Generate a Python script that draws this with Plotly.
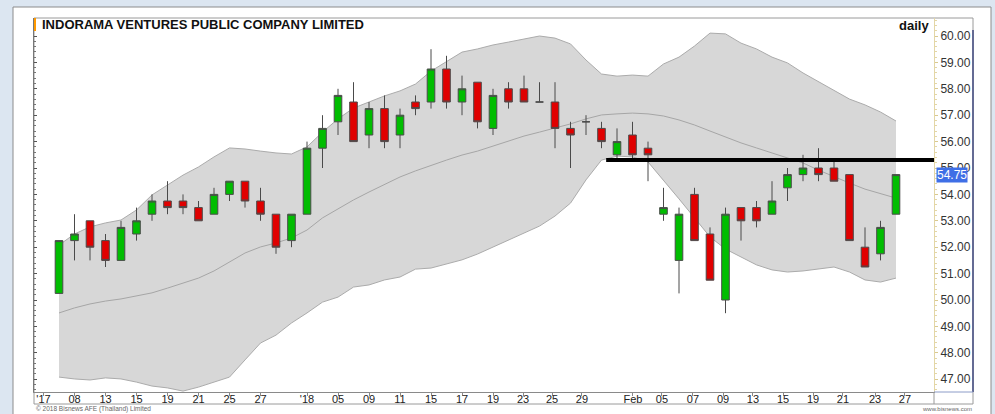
import plotly.graph_objects as go

# ---------------- data ----------------
dates = [
    "2017-12-07", "2017-12-08", "2017-12-12", "2017-12-13", "2017-12-14", "2017-12-15",
    "2017-12-18", "2017-12-19", "2017-12-20", "2017-12-21", "2017-12-22", "2017-12-25",
    "2017-12-26", "2017-12-27", "2017-12-28",
    "2018-01-02", "2018-01-03", "2018-01-04", "2018-01-05", "2018-01-08", "2018-01-09",
    "2018-01-10", "2018-01-11", "2018-01-12", "2018-01-15", "2018-01-16", "2018-01-17",
    "2018-01-18", "2018-01-19", "2018-01-22", "2018-01-23", "2018-01-24", "2018-01-25",
    "2018-01-26", "2018-01-29", "2018-01-30", "2018-01-31",
    "2018-02-01", "2018-02-02", "2018-02-05", "2018-02-06", "2018-02-07", "2018-02-08",
    "2018-02-09", "2018-02-12", "2018-02-13", "2018-02-14", "2018-02-15", "2018-02-16",
    "2018-02-19", "2018-02-20", "2018-02-21", "2018-02-22", "2018-02-23", "2018-02-26",
]

open_ = [50.25, 52.25, 53.00, 52.25, 51.50, 52.50, 53.25, 53.75, 53.75, 53.50,
         53.25, 54.00, 54.50, 53.75, 53.25, 52.25, 53.25, 55.75, 56.75, 57.50,
         56.25, 57.25, 56.25, 57.50, 57.50, 58.75, 57.50, 58.25, 56.50, 58.00,
         58.00, 57.50, 57.50, 56.50, 56.75, 56.50, 55.50, 56.25, 55.75, 53.25,
         51.50, 54.00, 52.50, 50.00, 53.50, 53.50, 53.25, 54.25, 54.75, 55.00,
         55.00, 54.75, 52.00, 51.75, 53.25]
high = [52.25, 53.25, 53.00, 52.50, 53.00, 53.50, 54.00, 54.50, 54.00, 53.75,
        54.25, 54.50, 54.50, 54.25, 53.25, 53.25, 56.00, 57.00, 58.00, 58.25,
        57.50, 57.75, 57.25, 57.75, 59.50, 59.25, 58.50, 58.25, 58.00, 58.25,
        58.50, 58.25, 58.25, 56.75, 57.00, 56.75, 56.50, 56.75, 56.00, 54.25,
        53.50, 54.25, 52.75, 53.50, 53.50, 53.75, 54.50, 55.00, 55.50, 55.75,
        55.25, 54.75, 52.75, 53.00, 54.75]
low = [50.25, 51.50, 51.50, 51.25, 51.50, 52.25, 53.00, 53.25, 53.25, 53.00,
       53.25, 53.75, 53.50, 53.00, 51.75, 52.00, 53.25, 55.00, 56.25, 56.00,
       55.75, 55.75, 55.75, 57.00, 57.25, 57.25, 57.00, 56.50, 56.25, 57.25,
       57.50, 57.50, 55.75, 55.00, 56.25, 55.75, 55.25, 55.25, 54.50, 53.00,
       50.25, 52.25, 50.75, 49.50, 52.25, 52.75, 53.25, 53.75, 54.50, 54.50,
       54.50, 52.25, 51.25, 51.50, 53.25]
close = [52.25, 52.50, 52.00, 51.50, 52.75, 53.00, 53.75, 53.50, 53.50, 53.00,
         54.00, 54.50, 53.75, 53.25, 52.00, 53.25, 55.75, 56.50, 57.75, 56.00,
         57.25, 56.00, 57.00, 57.25, 58.75, 57.50, 58.00, 56.75, 57.75, 57.50,
         57.50, 57.50, 56.50, 56.25, 56.75, 56.00, 56.00, 55.50, 55.50, 53.50,
         53.25, 52.25, 50.75, 53.25, 53.00, 53.00, 53.75, 54.75, 55.00, 54.75,
         54.50, 52.25, 51.25, 52.75, 54.75]

bb_upper = [52.08, 52.50, 52.77, 52.92, 53.03, 53.41, 53.98, 54.36, 54.73, 55.04,
            55.42, 55.76, 55.72, 55.64, 55.57, 55.53, 55.80, 56.36, 56.86, 57.27,
            57.50, 57.73, 57.92, 58.18, 58.67, 59.02, 59.39, 59.51, 59.66, 59.77,
            59.89, 60.00, 59.92, 59.70, 59.09, 58.56, 58.48, 58.52, 58.48, 58.94,
            59.20, 59.62, 60.11, 60.08, 59.73, 59.51, 59.20, 58.98, 58.60, 58.26,
            57.92, 57.61, 57.39, 57.12, 56.78]
bb_middle = [49.51, 49.70, 49.85, 49.96, 50.04, 50.15, 50.27, 50.45, 50.64, 50.83,
             51.10, 51.44, 51.78, 52.01, 52.16, 52.35, 52.65, 53.11, 53.45, 53.79,
             54.09, 54.39, 54.66, 54.89, 55.11, 55.30, 55.49, 55.64, 55.83, 56.02,
             56.21, 56.36, 56.52, 56.67, 56.86, 57.01, 57.05, 57.08, 57.05, 56.97,
             56.82, 56.63, 56.40, 56.17, 55.95, 55.76, 55.57, 55.38, 55.19, 54.92,
             54.66, 54.43, 54.20, 54.02, 53.86]
bb_lower = [47.08, 47.01, 46.97, 47.05, 47.01, 46.89, 46.74, 46.67, 46.55, 46.70,
            46.89, 47.08, 47.73, 48.37, 48.67, 49.13, 49.51, 49.92, 50.11, 50.49,
            50.57, 50.76, 50.87, 51.17, 51.21, 51.36, 51.52, 51.74, 52.01, 52.27,
            52.54, 52.80, 53.18, 53.67, 54.55, 55.30, 55.45, 55.42, 55.23, 54.55,
            53.83, 53.11, 52.39, 51.93, 51.63, 51.33, 51.14, 51.06, 51.10, 51.17,
            51.25, 51.06, 50.76, 50.68, 50.83]

tick_pos = [-1, 1, 3, 5, 7, 9, 11, 13, 16, 18, 20, 22, 24, 26, 28, 29.94, 31.81, 33.74,
            37.03, 38.9, 40.9, 42.84, 44.77, 46.71, 48.65, 50.58, 52.65, 54.58]
tick_text = ["'17", "08", "13", "15", "19", "21", "25", "27", "'18", "05", "09", "11",
             "15", "17", "19", "23", "25", "29", "Feb", "05", "07", "09", "13", "15",
             "19", "21", "23", "27"]

support_level = 55.30
support_start = 35.3
last_price = close[-1]

title_text = "INDORAMA VENTURES PUBLIC COMPANY LIMITED"

# ---------------- figure ----------------
W, H = 995, 414
x = list(range(len(dates)))
FONT = "Liberation Sans, Arial, sans-serif"


def px(v):
    return v / W


def py(v):
    return 1 - v / H


fig = go.Figure()

fig.add_trace(go.Scatter(x=x, y=bb_lower, mode="lines",
                         line=dict(color="#ababab", width=1), hoverinfo="skip",
                         showlegend=False))
fig.add_trace(go.Scatter(x=x, y=bb_upper, mode="lines", fill="tonexty",
                         fillcolor="#d7d7d7", line=dict(color="#ababab", width=1),
                         hoverinfo="skip", showlegend=False))
fig.add_trace(go.Scatter(x=x, y=bb_middle, mode="lines",
                         line=dict(color="#a6a6a6", width=1), hoverinfo="skip",
                         showlegend=False))

# candles on an overlaid (identical) y axis so they are drawn above the band fill
fig.add_trace(go.Candlestick(
    x=x, open=open_, high=high, low=low, close=close, yaxis="y2",
    increasing=dict(fillcolor="#00bd00", line=dict(color="#4a4a4a", width=1)),
    decreasing=dict(fillcolor="#e00000", line=dict(color="#4a4a4a", width=1)),
    whiskerwidth=0, showlegend=False,
))

# empty helper trace so the left tick-only axis is drawn
fig.add_trace(go.Scatter(x=[None], y=[None], yaxis="y3", mode="lines",
                         hoverinfo="skip", showlegend=False))

x_left = (34 - 59) / 15.5
x_right = (934 - 59) / 15.5
y_top = 60 + 18 / 26.4
y_bot = 60 - 356 / 26.4

shapes = [
    dict(type="rect", xref="paper", yref="paper", x0=px(13), x1=px(991), y0=py(415), y1=py(7),
         fillcolor="white", line=dict(color="#8c8c8c", width=1), layer="below"),
    dict(type="rect", xref="paper", yref="paper", x0=px(34), x1=px(973), y0=py(404), y1=py(18),
         fillcolor="rgba(0,0,0,0)", line=dict(color="#9a9a9a", width=1), layer="below"),
    dict(type="line", xref="paper", yref="paper", x0=px(973), x1=px(973), y0=py(392), y1=py(30),
         line=dict(color="#1f2a6e", width=1.2)),
    dict(type="line", xref="paper", yref="paper", x0=px(934), x1=px(973), y0=py(392), y1=py(392),
         line=dict(color="#8c9cc8", width=1)),
    dict(type="line", xref="paper", yref="paper", x0=px(934), x1=px(934), y0=py(404), y1=py(392),
         line=dict(color="#9a9a9a", width=1)),
    dict(type="rect", xref="paper", yref="paper", x0=px(34), x1=px(36), y0=py(31), y1=py(18),
         fillcolor="#ff9900", line=dict(width=0)),
    dict(type="line", xref="x", yref="y", x0=support_start, x1=x_right, y0=support_level,
         y1=support_level, line=dict(color="black", width=4)),
]

annotations = [
    dict(text="<b>" + title_text + "</b>", xref="paper", yref="paper", x=px(40), y=py(24),
         xanchor="left", yanchor="middle", showarrow=False,
         font=dict(family=FONT, size=13, color="#111")),
    dict(text="<b>daily</b>", xref="paper", yref="paper", x=px(931), y=py(25),
         xanchor="right", yanchor="middle", showarrow=False,
         font=dict(family=FONT, size=13, color="#111")),
    dict(text=f"{last_price:.2f}", xref="paper", yref="y", x=px(936), y=last_price,
         xanchor="left", yanchor="middle", showarrow=False, bgcolor="#3f6fe6",
         borderpad=0, font=dict(family=FONT, size=12, color="white")),
    dict(text="© 2018 Bisnews AFE (Thailand) Limited", xref="paper", yref="paper",
         x=px(34), y=py(409), xanchor="left", yanchor="middle", showarrow=False,
         font=dict(family=FONT, size=6.5, color="#666")),
    dict(text="www.bisnews.com", xref="paper", yref="paper",
         x=px(974), y=py(409), xanchor="right", yanchor="middle", showarrow=False,
         font=dict(family=FONT, size=6, color="#666")),
]

ydom = [1 - 392 / H, 1 - 18 / H]

fig.update_layout(
    width=W, height=H, autosize=False,
    margin=dict(l=0, r=0, t=0, b=0),
    paper_bgcolor="#dce6f1", plot_bgcolor="rgba(0,0,0,0)",
    showlegend=False, shapes=shapes, annotations=annotations,
    xaxis=dict(domain=[px(34), px(934)], range=[x_left, x_right],
               rangeslider=dict(visible=False), showgrid=False, zeroline=False,
               tickmode="array", tickvals=tick_pos, ticktext=tick_text,
               ticks="outside", ticklen=3, tickcolor="#8a8a8a", ticklabelstandoff=-6,
               showline=True, linecolor="#8a8a8a", linewidth=1,
               tickfont=dict(family=FONT, size=11, color="#222")),
    yaxis=dict(domain=ydom, range=[y_bot, y_top], side="right",
               showgrid=False, zeroline=False, dtick=1, tick0=47, tickformat=".2f",
               ticks="outside", ticklen=3, tickcolor="#d9c98f",
               showline=True, linecolor="#e3d6a6", linewidth=1,
               minor=dict(dtick=0.2, ticks="outside", ticklen=2, tickcolor="#e3d6a6"),
               tickfont=dict(family=FONT, size=12, color="#333")),
    yaxis2=dict(domain=ydom, range=[y_bot, y_top], overlaying="y",
                matches="y", visible=False, showgrid=False, zeroline=False),
    yaxis3=dict(domain=ydom, range=[y_bot, y_top], overlaying="y", side="left",
                matches="y", showgrid=False, zeroline=False, showticklabels=False,
                dtick=1, tick0=47, ticks="inside", ticklen=3, tickcolor="#555",
                showline=True, linecolor="#777", linewidth=1,
                minor=dict(dtick=0.2, ticks="inside", ticklen=2, tickcolor="#777")),
)

fig.write_html("out.html")
